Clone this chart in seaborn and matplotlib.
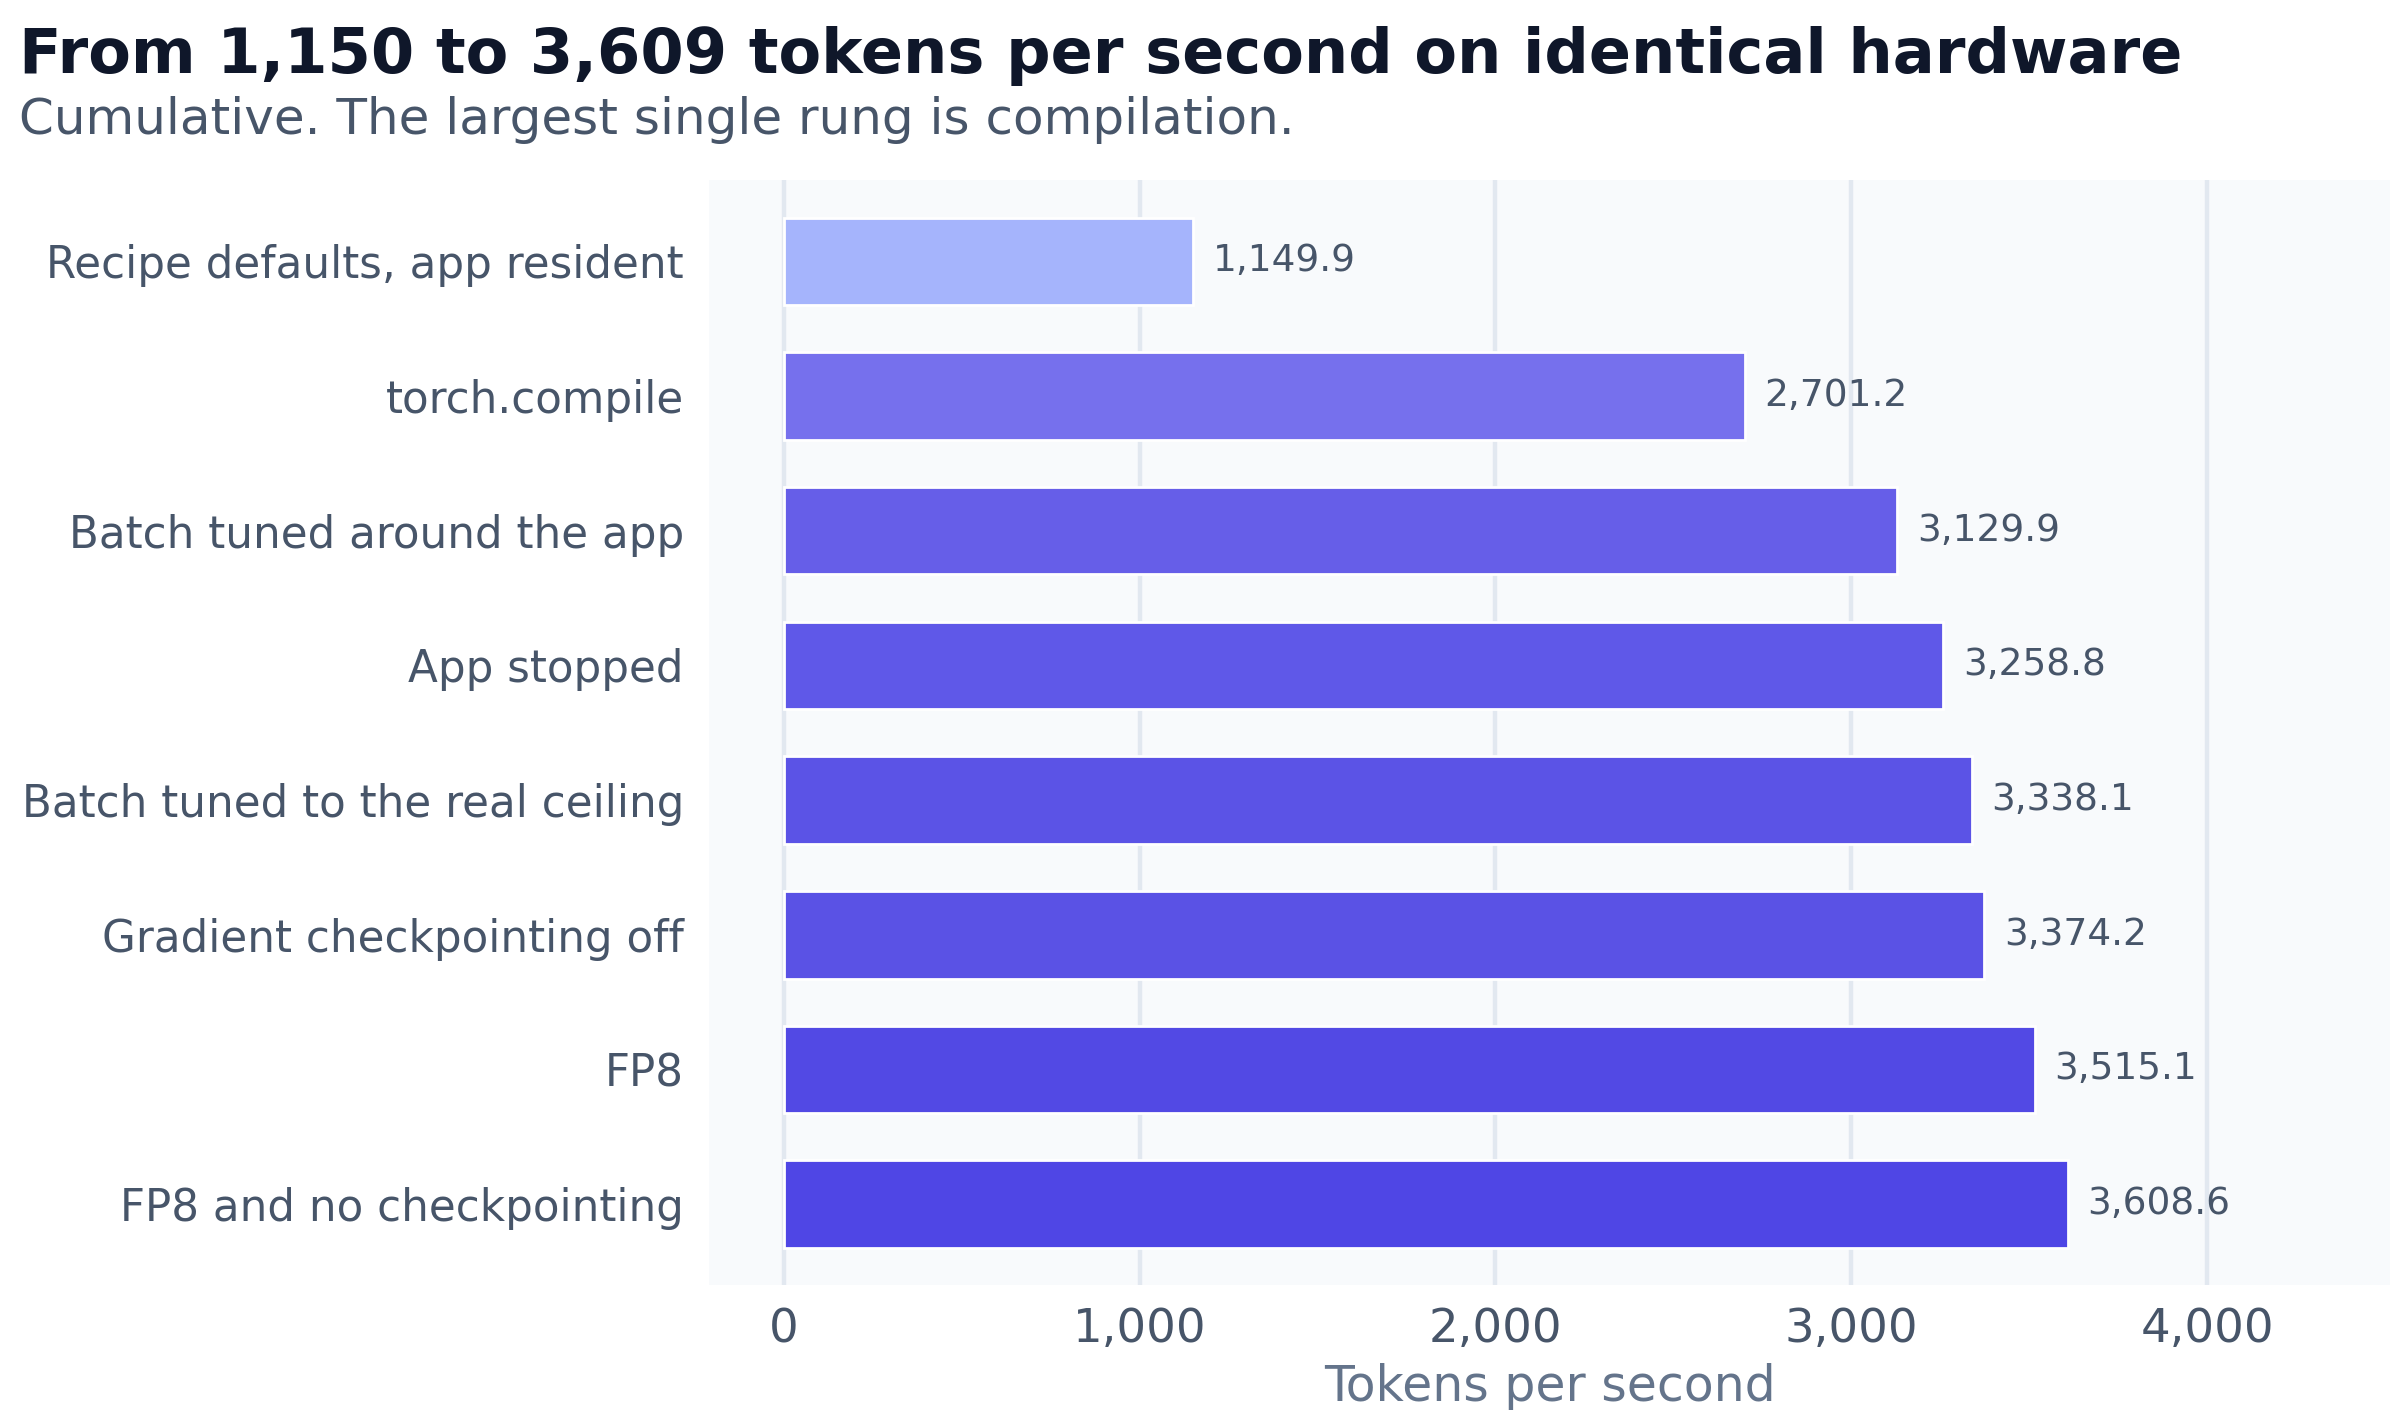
import matplotlib
matplotlib.use("Agg")
import matplotlib.pyplot as plt
import seaborn as sns
import pandas as pd

categories = [
    "Recipe defaults, app resident",
    "torch.compile",
    "Batch tuned around the app",
    "App stopped",
    "Batch tuned to the real ceiling",
    "Gradient checkpointing off",
    "FP8",
    "FP8 and no checkpointing",
]
values = [1149.9, 2701.2, 3129.9, 3258.8, 3338.1, 3374.2, 3515.1, 3608.6]
bar_colors = ["#a5b4fc", "#7670ed", "#665ee8", "#5f58e8", "#5b53e6", "#5a52e5", "#5249e4", "#4f46e5"]
x_ticks = [0, 1000, 2000, 3000, 4000]

title = "From 1,150 to 3,609 tokens per second on identical hardware"
subtitle = "Cumulative. The largest single rung is compilation."
x_label = "Tokens per second"

sns.set_theme(style="white")
plt.rcParams["font.family"] = ["DejaVu Sans"]

df = pd.DataFrame({"category": categories, "value": values})

fig = plt.figure(figsize=(12, 7.05), dpi=200)
ax = fig.add_axes([0.2954, 0.0887, 0.7006, 0.7833])
ax.set_facecolor("#f8fafc")

sns.barplot(data=df, x="value", y="category", hue="category", palette=bar_colors,
            legend=False, ax=ax, width=0.65, saturation=1, orient="h")

ax.set_xlim(-210, 4515)
ax.set_ylim(7.6, -0.6)
ax.set_xticks(x_ticks)
ax.set_xticklabels([f"{t:,}" for t in x_ticks])
ax.grid(axis="x", color="#e2e8f0", linewidth=1.6)
ax.grid(axis="y", visible=False)
ax.set_axisbelow(True)
for s in ax.spines.values():
    s.set_visible(False)

ax.tick_params(axis="y", labelsize=15.7, colors="#475569", length=0, pad=9)
ax.tick_params(axis="x", labelsize=16.8, colors="#475569", length=0, pad=8)
ax.set_ylabel("")
ax.set_xlabel(x_label, fontsize=17.6, color="#64748b", labelpad=4)

for i, v in enumerate(values):
    ax.text(v + 55, i, f"{v:,.1f}", va="center", ha="left", fontsize=13.5, color="#475569")

fig.text(0.008, 0.948, title, fontsize=22.4, fontweight="bold", color="#0f172a", ha="left", va="baseline")
fig.text(0.008, 0.905, subtitle, fontsize=18, color="#475569", ha="left", va="baseline")

fig.savefig("out.png", dpi=200, facecolor="white")
